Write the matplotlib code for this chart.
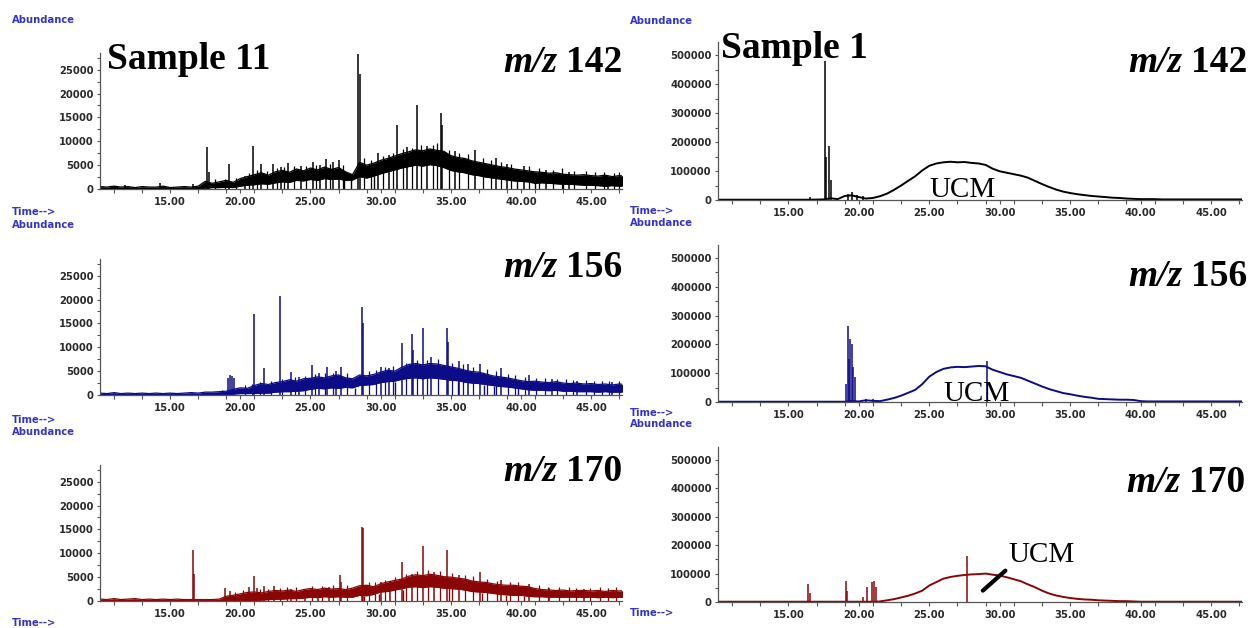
import numpy as np
import matplotlib.pyplot as plt

W, H = 1256, 628

# ---------------------------------------------------------------- data
# retention time grid (min) on which the signal envelopes were read off
t_grid = np.arange(10.0, 47.51, 0.5)

x_ticks = [15, 20, 25, 30, 35, 40, 45]
x_labels = ["15.00", "20.00", "25.00", "30.00", "35.00", "40.00", "45.00"]
x_minor = [11, 13, 17, 19, 21, 23, 27, 29, 31, 33, 37, 39, 41, 43, 47]

# left column (Sample 11), abundance in thousands
left_yticks = [0, 5, 10, 15, 20, 25]
left_ylabels = ["0", "5000", "10000", "15000", "20000", "25000"]
# right column (Sample 1), abundance in thousands
right_yticks = [0, 100, 200, 300, 400, 500]
right_ylabels = ["0", "100000", "200000", "300000", "400000", "500000"]

# Sample 11, m/z 142 : noise band (upper / lower edge), spikes, drop-outs
s11_142_hi = [0.5, 0.4, 0.6, 0.4, 0.5, 0.3, 0.5, 0.4, 0.4, 0.6,
              0.3, 0.4, 0.5, 0.4, 0.6, 1.6, 1.2, 1.5, 1.8, 1.4,
              2.2, 2.6, 3.0, 3.4, 2.9, 3.6, 3.9, 3.5, 4.2, 3.8,
              4.4, 4.0, 4.6, 4.1, 4.5, 3.6, 3.0, 5.6, 5.0, 5.4,
              6.0, 6.4, 6.9, 7.4, 7.8, 8.2, 8.0, 8.4, 8.1, 7.9,
              7.0, 6.6, 6.4, 5.9, 5.6, 5.3, 5.0, 4.7, 4.5, 4.2,
              4.0, 3.8, 3.6, 3.5, 3.3, 3.4, 3.1, 3.0, 2.9, 3.0,
              2.8, 2.7, 2.9, 2.6, 2.8, 2.7]
s11_142_lo = [0, 0, 0, 0, 0, 0, 0, 0, 0, 0,
              0, 0, 0, 0, 0, 0.2, 0.3, 0.3, 0.4, 0.3,
              0.6, 0.8, 0.9, 1.1, 1.0, 1.3, 1.5, 1.4, 1.8, 1.7,
              2.0, 1.8, 2.2, 2.0, 2.1, 1.8, 1.9, 2.6, 2.3, 2.7,
              3.2, 3.6, 4.0, 4.4, 4.7, 5.0, 4.8, 5.1, 4.9, 4.5,
              3.9, 3.6, 3.4, 3.0, 2.8, 2.5, 2.3, 2.1, 1.9, 1.7,
              1.6, 1.5, 1.2, 1.3, 1.2, 1.1, 1.0, 1.0, 0.9, 0.8,
              0.8, 0.7, 0.6, 0.7, 0.6, 0.6]
s11_142_pk_t = [11.8, 14.3, 16.6, 17.6, 17.75, 19.2, 20.3, 20.9, 21.5, 22.3,
                22.9, 23.4, 24.3, 25.2, 25.7, 26.1, 26.6, 27.0, 28.4, 28.5,
                29.8, 30.6, 31.2, 31.9, 32.6, 33.3, 34.3, 34.4, 35.3, 36.7,
                38.2, 39.0, 40.2, 41.8, 43.4, 46.2]
s11_142_pk_h = [0.8, 1.2, 1.0, 8.8, 3.5, 5.2, 2.8, 9.0, 5.2, 5.2,
                4.6, 5.4, 4.8, 5.6, 5.0, 6.2, 5.6, 6.0, 28.2, 24.0,
                7.6, 7.2, 13.5, 8.9, 17.7, 9.0, 16.0, 13.5, 8.0, 8.2,
                6.5, 5.2, 4.9, 4.0, 3.6, 2.6]
# short noise spikes poking out of the band
s11_142_gr_t = [18.2, 18.9, 19.7, 20.6, 21.2, 21.9, 22.6, 23.1, 23.8, 24.7,
                25.4, 26.4, 27.3, 28.8, 29.3, 30.2, 30.9, 31.6, 32.2, 32.9,
                33.7, 34.0, 34.9, 35.6, 36.2, 37.3, 37.9, 38.6, 39.3, 40.6,
                41.3, 42.3, 42.9, 43.8, 44.6, 45.3, 45.9, 46.6, 47.0]
s11_142_gr_h = [2.0, 2.1, 2.3, 3.4, 3.9, 3.8, 4.4, 4.6, 4.9, 4.8,
                5.1, 5.3, 5.0, 6.4, 6.1, 7.0, 7.6, 8.4, 8.6, 9.2,
                9.3, 9.6, 8.2, 7.6, 7.3, 6.5, 6.1, 5.6, 5.3, 4.8,
                4.4, 4.0, 4.3, 3.8, 3.7, 3.5, 3.6, 3.4, 3.5]
s11_142_dip_t = [27.4, 27.9, 29.5, 39.7, 41.0, 43.0]
s11_142_dip_h = [2.0, 2.0, 2.7, 1.6, 1.2, 1.0]

# Sample 11, m/z 156
s11_156_hi = [0.4, 0.3, 0.5, 0.3, 0.4, 0.3, 0.4, 0.3, 0.4, 0.3,
              0.4, 0.3, 0.4, 0.5, 0.4, 0.6, 0.6, 0.7, 0.8, 1.2,
              1.5, 1.4, 2.0, 2.4, 2.2, 2.6, 2.8, 3.2, 2.9, 3.4,
              3.5, 3.8, 3.6, 4.0, 4.2, 3.6, 3.4, 4.2, 4.0, 4.3,
              4.8, 5.2, 5.0, 5.8, 6.4, 6.6, 6.3, 6.6, 6.5, 6.2,
              5.9, 5.6, 5.2, 4.9, 4.8, 4.4, 4.0, 3.8, 3.6, 3.3,
              3.0, 2.8, 2.9, 2.7, 2.6, 2.8, 2.5, 2.4, 2.5, 2.3,
              2.4, 2.2, 2.3, 2.1, 2.3, 2.2]
s11_156_lo = [0, 0, 0, 0, 0, 0, 0, 0, 0, 0,
              0, 0, 0, 0, 0, 0, 0, 0, 0.1, 0.2,
              0.3, 0.3, 0.35, 0.4, 0.4, 0.6, 0.7, 0.7, 0.8, 0.9,
              1.2, 1.4, 1.3, 1.5, 1.4, 1.6, 1.5, 2.0, 2.1, 2.2,
              2.6, 2.8, 2.9, 3.3, 3.5, 3.6, 3.4, 3.6, 3.5, 3.3,
              3.1, 3.0, 2.7, 2.5, 2.4, 2.2, 2.0, 1.8, 1.7, 1.5,
              1.3, 1.1, 1.0, 1.0, 0.9, 1.0, 0.8, 0.8, 0.7, 0.7,
              0.7, 0.6, 0.7, 0.6, 0.6, 0.6]
s11_156_pk_t = [19.1, 19.25, 19.4, 19.55, 21.0, 21.7, 22.8, 23.6, 24.2, 25.1,
                25.6, 26.2, 26.8, 27.2, 28.65, 28.75, 30.0, 30.6, 31.5, 32.2,
                32.3, 33.0, 33.6, 34.7, 34.8, 35.6, 36.2, 37.1, 38.6, 40.6,
                42.2, 44.0, 46.5]
s11_156_pk_h = [3.6, 4.1, 4.0, 3.6, 17.0, 5.6, 20.8, 4.9, 3.8, 6.25,
                4.6, 5.9, 5.0, 5.9, 18.4, 15.0, 5.9, 5.6, 10.8, 12.8,
                9.5, 14.1, 8.0, 14.1, 11.1, 7.2, 6.6, 6.6, 5.6, 4.2,
                3.4, 3.0, 2.8]
s11_156_gr_t = [18.7, 20.3, 20.8, 21.4, 22.2, 23.0, 23.9, 24.6, 25.3, 26.0,
                26.6, 27.6, 29.2, 29.7, 30.3, 30.9, 31.8, 32.6, 33.3, 34.1,
                35.1, 35.9, 36.6, 37.6, 38.2, 39.1, 39.6, 40.3, 41.1, 41.7,
                42.6, 43.2, 43.7, 44.6, 45.2, 45.8, 46.3, 47.0]
s11_156_gr_h = [1.0, 2.0, 2.4, 2.8, 3.0, 3.4, 3.8, 4.0, 4.4, 4.6,
                4.7, 4.6, 5.0, 5.2, 5.8, 6.1, 6.8, 7.3, 7.4, 7.5,
                6.8, 6.4, 5.9, 5.4, 5.0, 4.5, 4.2, 3.8, 3.6, 3.6,
                3.4, 3.3, 3.1, 3.1, 3.0, 2.9, 3.0, 2.9]
s11_156_dip_t = [28.2, 31.0, 35.5, 37.4, 38.1, 39.8]
s11_156_dip_h = [1.5, 2.8, 3.0, 2.2, 1.8, 1.5]

# Sample 11, m/z 170
s11_170_hi = [0.4, 0.3, 0.5, 0.3, 0.4, 0.5, 0.3, 0.4, 0.3, 0.4,
              0.3, 0.4, 0.3, 0.3, 0.3, 0.3, 0.3, 0.4, 1.0, 1.2,
              1.5, 1.8, 1.9, 1.7, 2.0, 2.2, 2.1, 2.3, 2.0, 2.4,
              2.6, 2.4, 2.7, 2.5, 2.6, 2.4, 2.7, 3.2, 3.3, 3.0,
              3.6, 4.0, 4.3, 4.6, 5.2, 5.5, 5.3, 5.6, 5.4, 5.1,
              5.0, 4.8, 4.6, 4.2, 4.0, 3.9, 3.6, 3.4, 3.3, 3.3,
              3.1, 3.0, 2.6, 2.4, 2.3, 2.2, 2.3, 2.1, 2.2, 2.2,
              2.1, 2.2, 2.0, 2.2, 2.1, 2.2]
s11_170_lo = [0, 0, 0, 0, 0, 0, 0, 0, 0, 0,
              0, 0, 0, 0, 0, 0, 0, 0, 0, 0,
              0.05, 0.1, 0.1, 0.2, 0.3, 0.35, 0.4, 0.5, 0.5, 0.6,
              0.8, 0.7, 0.9, 0.8, 0.9, 0.8, 0.8, 1.2, 1.1, 1.4,
              1.9, 2.0, 2.3, 2.6, 2.9, 3.0, 2.8, 3.0, 2.9, 2.7,
              2.6, 2.5, 2.3, 2.0, 1.9, 1.8, 1.6, 1.4, 1.3, 1.2,
              1.2, 1.0, 0.9, 0.9, 0.8, 0.8, 0.8, 0.8, 0.8, 0.8,
              0.8, 0.7, 0.8, 0.7, 0.8, 0.7]
s11_170_pk_t = [16.6, 16.7, 18.9, 19.25, 20.6, 21.0, 21.2, 21.7, 22.4, 23.6,
                24.6, 25.5, 26.3, 27.1, 27.15, 28.65, 28.75, 30.0, 30.7, 31.5,
                32.2, 33.0, 33.8, 34.7, 35.6, 37.1, 38.6, 40.6, 42.0, 44.5]
s11_170_pk_h = [10.6, 5.7, 2.7, 2.2, 2.9, 5.2, 2.8, 3.1, 3.1, 2.6,
                2.4, 2.6, 3.0, 5.5, 4.0, 15.6, 15.3, 4.0, 4.2, 8.1,
                5.6, 11.6, 6.0, 10.6, 5.5, 6.0, 4.3, 3.6, 2.8, 2.6]
s11_170_gr_t = [19.6, 20.2, 21.4, 22.0, 22.8, 23.3, 24.0, 25.1, 25.8, 26.6,
                27.6, 29.2, 29.6, 30.3, 31.0, 31.8, 32.6, 33.4, 34.2, 35.1,
                36.0, 36.6, 37.6, 38.3, 39.2, 39.8, 41.3, 41.9, 42.7, 43.4,
                43.9, 44.9, 45.6, 46.2, 46.8]
s11_170_gr_h = [1.8, 2.4, 2.6, 2.6, 2.8, 2.9, 2.9, 3.2, 3.1, 3.3,
                3.4, 4.0, 3.9, 4.5, 5.0, 5.6, 6.3, 6.4, 6.2, 5.9,
                5.4, 5.2, 4.6, 4.2, 4.0, 3.9, 3.4, 3.0, 2.9, 3.0,
                2.8, 2.8, 2.9, 2.7, 2.9]
s11_170_dip_t = [28.8, 29.9, 31.6, 34.9, 37.2, 38.9, 40.2]
s11_170_dip_h = [1.1, 1.4, 2.3, 2.9, 1.6, 1.3, 1.0]

# Sample 1 traces (thousands)
s1_142 = [1, 1, 1, 1, 1, 1, 1, 1, 1, 1,
          1, 1, 1, 1, 1.5, 2, 6, 3, 14, 16,
          10, 5, 7, 13, 22, 35, 50, 66, 82, 102,
          118, 126, 130, 132, 130, 131, 128, 126, 121, 108,
          99, 94, 89, 84, 77, 66, 55, 45, 36, 29,
          24, 20, 17, 14, 12, 10, 8, 7, 5, 4,
          3, 3, 3, 2, 2, 2, 2, 2, 2, 2,
          2, 2, 2, 2, 2, 2]
s1_142_pk_t = [16.5, 17.6, 17.7, 17.9, 18.0, 19.2, 19.5, 19.9, 20.3]
s1_142_pk_h = [10, 480, 150, 185, 70, 22, 26, 18, 14]

s1_156 = [1, 1, 1, 1, 1, 1, 1, 1, 1, 1,
          1, 1, 1, 1, 1, 1, 1, 1, 1, 3,
          2, 6, 4, 3, 8, 14, 22, 32, 42, 62,
          88, 104, 115, 120, 122, 121, 123, 125, 124, 112,
          104, 96, 90, 84, 74, 64, 54, 45, 38, 31,
          27, 22, 18, 15, 11, 10, 9, 8, 8, 7,
          3, 2, 2, 2, 2, 2, 2, 2, 2, 2,
          2, 2, 2, 2, 2, 2]
s1_156_pk_t = [19.1, 19.2, 19.3, 19.4, 19.5, 19.6, 19.75, 20.5, 21.0, 29.1]
s1_156_pk_h = [63, 264, 150, 218, 200, 120, 86, 12, 10, 144]

s1_170 = [1, 1, 1, 1, 1, 1, 1, 1, 1, 1,
          1, 1, 1, 1, 1, 1, 1, 1, 1, 1,
          1, 1, 1, 2, 6, 10, 16, 22, 30, 40,
          58, 70, 82, 88, 92, 95, 97, 98, 100, 96,
          93, 87, 80, 73, 62, 52, 40, 30, 23, 18,
          14, 11, 9, 8, 6, 5, 4, 3, 3, 2,
          1, 1, 1, 1, 1, 1, 1, 1, 1, 1,
          1, 1, 1, 1, 1, 1]
s1_170_pk_t = [16.4, 16.5, 19.1, 19.15, 20.3, 20.6, 20.9, 21.1, 21.25, 27.7]
s1_170_pk_h = [63, 30, 75, 40, 17, 52, 69, 75, 52, 160]

BLACK = "#000000"
NAVY = "#0c0c86"
DARKRED = "#8a0606"
LABEL_BLUE = "#3434c8"

# ---------------------------------------------------------------- figure
fig = plt.figure(figsize=(W / 100, H / 100), dpi=100)
fig.patch.set_facecolor("white")

tick_font = dict(family="DejaVu Sans", weight="bold", size=7.2)
serif = "Liberation Serif"


def add_panel(x0, x1, ytop, ybot):
    return fig.add_axes([x0 / W, 1 - ybot / H, (x1 - x0) / W, (ybot - ytop) / H])


def style(ax, yticks, ylabels, ymax, yminor):
    ax.set_xlim(10, 47.2)
    ax.set_ylim(0, ymax)
    ax.spines["top"].set_visible(False)
    ax.spines["right"].set_visible(False)
    for s in ["left", "bottom"]:
        ax.spines[s].set_color("#555555")
        ax.spines[s].set_linewidth(0.9)
    ax.set_xticks(x_ticks)
    ax.set_xticklabels(x_labels, fontdict=tick_font, color="#2a2a2a")
    ax.set_xticks(x_minor, minor=True)
    ax.set_yticks(yticks)
    ax.set_yticklabels(ylabels, fontdict=tick_font, color="#2a2a2a")
    ax.set_yticks(yminor, minor=True)
    ax.tick_params(axis="x", which="both", direction="out", length=3, width=0.8,
                   color="#555555", pad=3)
    ax.tick_params(axis="y", which="both", direction="out", length=2, width=0.8,
                   color="#555555", pad=2.5)
    ax.patch.set_alpha(0)


def band_trace(ax, hi, lo, pk_t, pk_h, gr_t, gr_h, dip_t, dip_h, color):
    ax.fill_between(t_grid, lo, hi, color=color, lw=0)
    ax.plot(t_grid, hi, color=color, lw=0.9)
    ax.plot(t_grid, lo, color=color, lw=0.9)
    ax.vlines(gr_t, 0, gr_h, color=color, lw=0.9)
    ax.vlines(pk_t, 0, pk_h, color=color, lw=1.1)
    ax.vlines(dip_t, 0, dip_h, color=color, lw=1.0)


def line_trace(ax, y, pk_t, pk_h, color):
    ax.plot(t_grid, y, color=color, lw=1.4)
    ax.vlines(pk_t, 0, pk_h, color=color, lw=1.1)


left_minor = [2.5, 7.5, 12.5, 17.5, 22.5, 27.5]
right_minor = [50, 150, 250, 350, 450]

# left column
axL1 = add_panel(100, 622, 53, 189)
axL2 = add_panel(100, 622, 259, 395)
axL3 = add_panel(100, 622, 465, 601)
band_trace(axL1, s11_142_hi, s11_142_lo, s11_142_pk_t, s11_142_pk_h,
           s11_142_gr_t, s11_142_gr_h, s11_142_dip_t, s11_142_dip_h, BLACK)
band_trace(axL2, s11_156_hi, s11_156_lo, s11_156_pk_t, s11_156_pk_h,
           s11_156_gr_t, s11_156_gr_h, s11_156_dip_t, s11_156_dip_h, NAVY)
band_trace(axL3, s11_170_hi, s11_170_lo, s11_170_pk_t, s11_170_pk_h,
           s11_170_gr_t, s11_170_gr_h, s11_170_dip_t, s11_170_dip_h, DARKRED)
for ax in (axL1, axL2, axL3):
    style(ax, left_yticks, left_ylabels, 28.5, left_minor)

# right column
axR1 = add_panel(718, 1242, 42, 200)
axR2 = add_panel(718, 1242, 245, 402)
axR3 = add_panel(718, 1242, 447, 602)
line_trace(axR1, s1_142, s1_142_pk_t, s1_142_pk_h, BLACK)
line_trace(axR2, s1_156, s1_156_pk_t, s1_156_pk_h, NAVY)
line_trace(axR3, s1_170, s1_170_pk_t, s1_170_pk_h, DARKRED)
for ax in (axR1, axR2, axR3):
    style(ax, right_yticks, right_ylabels, 545, right_minor)

# UCM labels
axR1.text(25.0, 9, "UCM", family=serif, size=21, ha="left", va="baseline")
axR2.text(26.0, 5, "UCM", family=serif, size=21, ha="left", va="baseline")
axR3.annotate("UCM", xy=(28.8, 40), xytext=(30.6, 140), family=serif, size=21,
              ha="left", va="baseline",
              arrowprops=dict(arrowstyle="-", lw=3, color="black",
                              relpos=(0, 0), shrinkA=0, shrinkB=0))


def fig_text(x, y, s, **kw):
    return fig.text(x / W, 1 - y / H, s, **kw)


# ChemStation axis captions
small_blue = dict(family="DejaVu Sans", weight="bold", size=7.2,
                  color=LABEL_BLUE, va="center", ha="left")
for x, ys in [(12, [20, 225, 432]), (630, [21, 223, 424])]:
    for y in ys:
        fig_text(x, y, "Abundance", **small_blue)
for x, ys in [(12, [212, 420, 623]), (630, [211, 413, 613])]:
    for y in ys:
        fig_text(x, y, "Time-->", **small_blue)

# sample titles
title_font = dict(family=serif, weight="bold", size=27, va="baseline", ha="left")
fig_text(107, 69, "Sample 11", **title_font)
fig_text(721, 58, "Sample 1", **title_font)

# m/z labels
renderer = fig.canvas.get_renderer()
mz_font = dict(family=serif, weight="bold", size=27, va="baseline", ha="right")


def mz_label(x_right, y_base, number):
    num = fig_text(x_right, y_base, number, **mz_font)
    bb = num.get_window_extent(renderer)
    fig.text((bb.x0 - 8) / W, 1 - y_base / H, "m/z", style="italic", **mz_font)


mz_label(622, 72, "142")
mz_label(622, 277, "156")
mz_label(622, 481, "170")
mz_label(1247, 72, "142")
mz_label(1247, 286, "156")
mz_label(1245, 492, "170")

fig.savefig("out.png", dpi=100)
